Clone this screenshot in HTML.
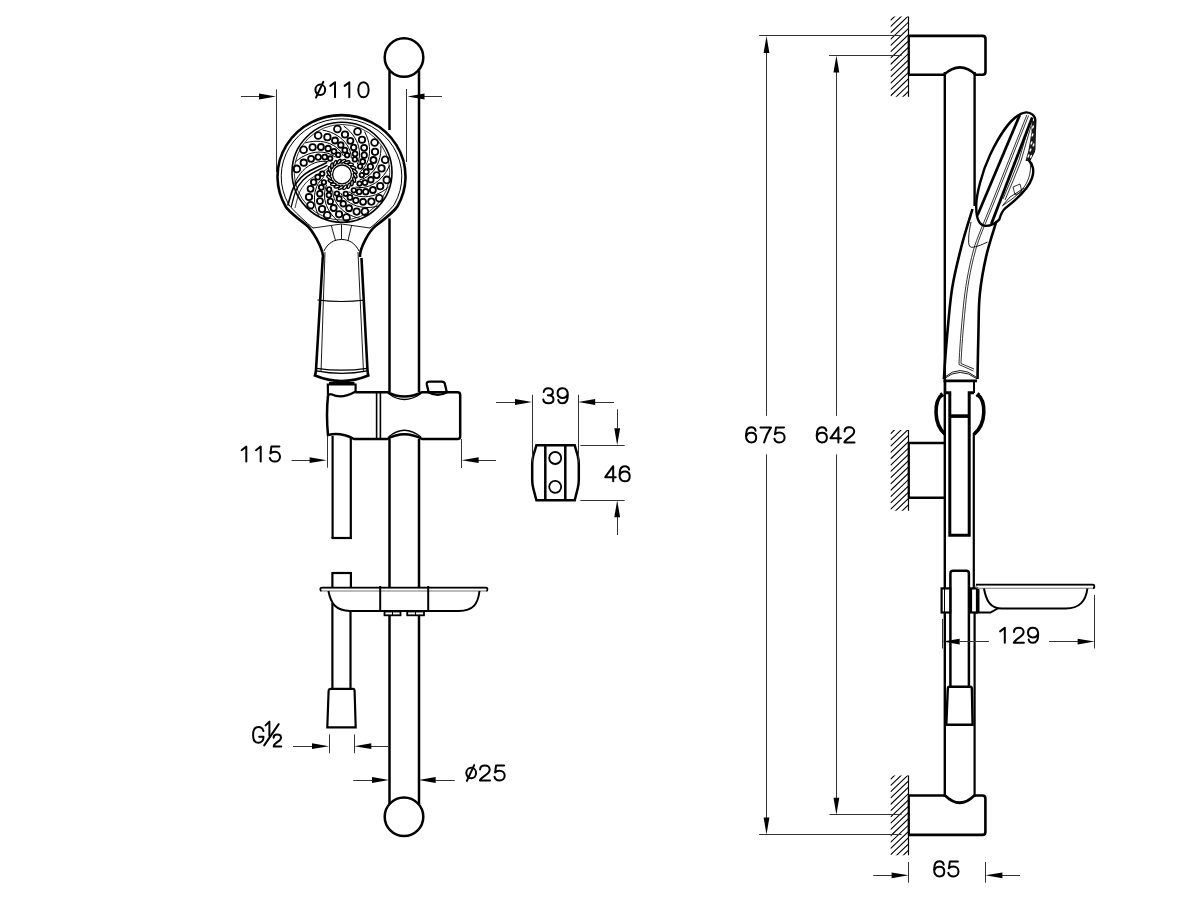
<!DOCTYPE html>
<html><head><meta charset="utf-8"><style>
html,body{margin:0;padding:0;background:#fff;}
svg{display:block;}
text{font-family:"Liberation Sans",sans-serif;fill:#000;}
</style></head><body>
<svg width="1186" height="903" viewBox="0 0 1186 903">
<rect width="1186" height="903" fill="#fff"/>
<line x1="276.50" y1="89.40" x2="276.50" y2="172.00" stroke="#333" stroke-width="1.0"/>
<line x1="406.50" y1="89.00" x2="406.50" y2="162.00" stroke="#333" stroke-width="1.0"/>
<line x1="241.00" y1="96.50" x2="260.00" y2="96.50" stroke="#333" stroke-width="1.0"/>
<polygon points="276.00,96.50 259.00,93.60 259.00,99.40" fill="#000"/>
<line x1="424.00" y1="96.50" x2="442.00" y2="96.50" stroke="#333" stroke-width="1.0"/>
<polygon points="407.50,96.50 424.50,93.60 424.50,99.40" fill="#000"/>
<path transform="translate(314.40,81.20)" d="M5.9,3.4 C8.6,3.4 10.8,5.7 10.8,8.6 C10.8,11.5 8.6,13.8 5.9,13.8 C3.2,13.8 1,11.5 1,8.6 C1,5.7 3.2,3.4 5.9,3.4 Z M1.6,16.5 L8.9,0.7" stroke="#000" stroke-width="2.0" fill="none" stroke-linecap="round" stroke-linejoin="round"/>
<path transform="translate(328.70,81.20)" d="M1.6,4.7 L6.3,1 L6.3,16.1" stroke="#000" stroke-width="2.0" fill="none" stroke-linecap="round" stroke-linejoin="round"/>
<path transform="translate(343.00,81.20)" d="M1.6,4.7 L6.3,1 L6.3,16.1" stroke="#000" stroke-width="2.0" fill="none" stroke-linecap="round" stroke-linejoin="round"/>
<path transform="translate(357.30,81.20)" d="M6.15,1 C9.2,1 11.3,4.2 11.3,8.55 C11.3,12.9 9.2,16.1 6.15,16.1 C3.1,16.1 1,12.9 1,8.55 C1,4.2 3.1,1 6.15,1 Z" stroke="#000" stroke-width="2.0" fill="none" stroke-linecap="round" stroke-linejoin="round"/>
<circle cx="404.00" cy="57.50" r="19.30" stroke="#000" stroke-width="2.5" fill="none"/>
<line x1="389.50" y1="70.50" x2="389.50" y2="130.00" stroke="#000" stroke-width="2.5"/>
<line x1="389.50" y1="218.50" x2="389.50" y2="392.00" stroke="#000" stroke-width="2.5"/>
<line x1="419.00" y1="70.50" x2="419.00" y2="392.00" stroke="#000" stroke-width="2.5"/>
<line x1="389.50" y1="439.00" x2="389.50" y2="587.50" stroke="#000" stroke-width="2.5"/>
<line x1="419.00" y1="439.00" x2="419.00" y2="587.50" stroke="#000" stroke-width="2.5"/>
<line x1="389.50" y1="615.00" x2="389.50" y2="804.00" stroke="#000" stroke-width="2.5"/>
<line x1="419.00" y1="615.00" x2="419.00" y2="804.00" stroke="#000" stroke-width="2.5"/>
<circle cx="404.00" cy="816.80" r="19.30" stroke="#000" stroke-width="2.5" fill="none"/>
<path d="M323.1,257 C322.6,248 312.3,229.4 305.9,224.6 C301.9,221.6 288,210.6 285.52,206.27 A64.0,61.4 0 1 1 397.48,206.27 C395,210.6 379.8,222.7 375.8,225.7 C369.4,230.5 359.4,248 360.0,257" stroke="#000" stroke-width="2.6" fill="none" />
<path d="M313.2,228.2 C308.4,224.6 291.3,208.8 288.76,204.47 A60.3,57.7 0 1 1 394.24,204.47 C391.7,208.8 374.6,224.6 369.8,228.2" stroke="#000" stroke-width="1.0" fill="none" />
<circle cx="342.00" cy="172.30" r="50.00" stroke="#000" stroke-width="1.6" fill="none"/>
<circle cx="342.00" cy="172.30" r="47.80" stroke="#000" stroke-width="0.8" fill="none"/>
<circle cx="342.00" cy="174.40" r="9.40" stroke="#000" stroke-width="1.3" fill="none"/>
<ellipse cx="355.15" cy="175.55" rx="2.8" ry="1.3" transform="rotate(60.0 355.15 175.55)" stroke="#000" stroke-width="1.4" fill="none"/>
<ellipse cx="354.15" cy="179.56" rx="2.8" ry="1.3" transform="rotate(78.0 354.15 179.56)" stroke="#000" stroke-width="1.4" fill="none"/>
<ellipse cx="351.96" cy="183.06" rx="2.8" ry="1.3" transform="rotate(96.0 351.96 183.06)" stroke="#000" stroke-width="1.4" fill="none"/>
<ellipse cx="348.80" cy="185.71" rx="2.8" ry="1.3" transform="rotate(114.0 348.80 185.71)" stroke="#000" stroke-width="1.4" fill="none"/>
<ellipse cx="344.97" cy="187.26" rx="2.8" ry="1.3" transform="rotate(132.0 344.97 187.26)" stroke="#000" stroke-width="1.4" fill="none"/>
<ellipse cx="340.85" cy="187.55" rx="2.8" ry="1.3" transform="rotate(150.0 340.85 187.55)" stroke="#000" stroke-width="1.4" fill="none"/>
<ellipse cx="336.84" cy="186.55" rx="2.8" ry="1.3" transform="rotate(168.0 336.84 186.55)" stroke="#000" stroke-width="1.4" fill="none"/>
<ellipse cx="333.34" cy="184.36" rx="2.8" ry="1.3" transform="rotate(186.0 333.34 184.36)" stroke="#000" stroke-width="1.4" fill="none"/>
<ellipse cx="330.69" cy="181.20" rx="2.8" ry="1.3" transform="rotate(204.0 330.69 181.20)" stroke="#000" stroke-width="1.4" fill="none"/>
<ellipse cx="329.14" cy="177.37" rx="2.8" ry="1.3" transform="rotate(222.0 329.14 177.37)" stroke="#000" stroke-width="1.4" fill="none"/>
<ellipse cx="328.85" cy="173.25" rx="2.8" ry="1.3" transform="rotate(240.0 328.85 173.25)" stroke="#000" stroke-width="1.4" fill="none"/>
<ellipse cx="329.85" cy="169.24" rx="2.8" ry="1.3" transform="rotate(258.0 329.85 169.24)" stroke="#000" stroke-width="1.4" fill="none"/>
<ellipse cx="332.04" cy="165.74" rx="2.8" ry="1.3" transform="rotate(276.0 332.04 165.74)" stroke="#000" stroke-width="1.4" fill="none"/>
<ellipse cx="335.20" cy="163.09" rx="2.8" ry="1.3" transform="rotate(294.0 335.20 163.09)" stroke="#000" stroke-width="1.4" fill="none"/>
<ellipse cx="339.03" cy="161.54" rx="2.8" ry="1.3" transform="rotate(312.0 339.03 161.54)" stroke="#000" stroke-width="1.4" fill="none"/>
<ellipse cx="343.15" cy="161.25" rx="2.8" ry="1.3" transform="rotate(330.0 343.15 161.25)" stroke="#000" stroke-width="1.4" fill="none"/>
<ellipse cx="347.16" cy="162.25" rx="2.8" ry="1.3" transform="rotate(348.0 347.16 162.25)" stroke="#000" stroke-width="1.4" fill="none"/>
<ellipse cx="350.66" cy="164.44" rx="2.8" ry="1.3" transform="rotate(366.0 350.66 164.44)" stroke="#000" stroke-width="1.4" fill="none"/>
<ellipse cx="353.31" cy="167.60" rx="2.8" ry="1.3" transform="rotate(384.0 353.31 167.60)" stroke="#000" stroke-width="1.4" fill="none"/>
<ellipse cx="354.86" cy="171.43" rx="2.8" ry="1.3" transform="rotate(402.0 354.86 171.43)" stroke="#000" stroke-width="1.4" fill="none"/>
<circle cx="318.19" cy="135.51" r="3.40" stroke="#000" stroke-width="1.8" fill="none"/>
<circle cx="327.40" cy="137.16" r="3.20" stroke="#000" stroke-width="1.8" fill="none"/>
<circle cx="335.00" cy="140.52" r="3.00" stroke="#000" stroke-width="1.8" fill="none"/>
<circle cx="340.81" cy="145.02" r="2.75" stroke="#000" stroke-width="1.8" fill="none"/>
<circle cx="344.84" cy="150.17" r="2.50" stroke="#000" stroke-width="1.8" fill="none"/>
<circle cx="347.11" cy="155.27" r="2.25" stroke="#000" stroke-width="1.8" fill="none"/>
<polyline points="343.44,155.96 342.11,153.60 340.46,151.35 338.48,149.25 336.19,147.32 333.61,145.60 330.75,144.12 327.64,142.92 324.30,142.02 320.76,141.45 317.05,141.23 313.21,141.39 309.27,141.93 305.27,142.88" stroke="#000" stroke-width="1.0" fill="none"/>
<circle cx="337.41" cy="129.03" r="3.40" stroke="#000" stroke-width="1.8" fill="none"/>
<circle cx="345.00" cy="134.51" r="3.20" stroke="#000" stroke-width="1.8" fill="none"/>
<circle cx="350.38" cy="140.83" r="3.00" stroke="#000" stroke-width="1.8" fill="none"/>
<circle cx="353.67" cy="147.41" r="2.75" stroke="#000" stroke-width="1.8" fill="none"/>
<circle cx="355.07" cy="153.79" r="2.50" stroke="#000" stroke-width="1.8" fill="none"/>
<circle cx="354.90" cy="159.38" r="2.25" stroke="#000" stroke-width="1.8" fill="none"/>
<polyline points="351.29,158.40 351.12,155.71 350.60,152.96 349.74,150.21 348.51,147.48 346.93,144.81 344.99,142.24 342.71,139.81 340.09,137.55 337.15,135.50 333.90,133.70 330.38,132.17 326.59,130.95 322.57,130.07" stroke="#000" stroke-width="1.0" fill="none"/>
<circle cx="357.54" cy="131.53" r="3.40" stroke="#000" stroke-width="1.8" fill="none"/>
<circle cx="362.00" cy="139.76" r="3.20" stroke="#000" stroke-width="1.8" fill="none"/>
<circle cx="364.11" cy="147.79" r="3.00" stroke="#000" stroke-width="1.8" fill="none"/>
<circle cx="364.22" cy="155.14" r="2.75" stroke="#000" stroke-width="1.8" fill="none"/>
<circle cx="362.71" cy="161.50" r="2.50" stroke="#000" stroke-width="1.8" fill="none"/>
<circle cx="360.14" cy="166.46" r="2.25" stroke="#000" stroke-width="1.8" fill="none"/>
<polyline points="357.31,164.01 358.33,161.51 359.05,158.81 359.46,155.95 359.54,152.96 359.27,149.87 358.64,146.72 357.64,143.54 356.26,140.37 354.50,137.25 352.36,134.21 349.84,131.31 346.95,128.57 343.71,126.03" stroke="#000" stroke-width="1.0" fill="none"/>
<circle cx="374.59" cy="142.51" r="3.40" stroke="#000" stroke-width="1.8" fill="none"/>
<circle cx="375.04" cy="151.86" r="3.20" stroke="#000" stroke-width="1.8" fill="none"/>
<circle cx="373.46" cy="160.01" r="3.00" stroke="#000" stroke-width="1.8" fill="none"/>
<circle cx="370.37" cy="166.68" r="2.75" stroke="#000" stroke-width="1.8" fill="none"/>
<circle cx="366.26" cy="171.76" r="2.50" stroke="#000" stroke-width="1.8" fill="none"/>
<circle cx="361.79" cy="175.11" r="2.25" stroke="#000" stroke-width="1.8" fill="none"/>
<polyline points="360.30,171.68 362.30,169.87 364.12,167.75 365.73,165.35 367.10,162.69 368.20,159.79 369.00,156.67 369.48,153.37 369.61,149.92 369.37,146.34 368.76,142.68 367.75,138.97 366.34,135.25 364.52,131.56" stroke="#000" stroke-width="1.0" fill="none"/>
<circle cx="385.20" cy="159.80" r="3.40" stroke="#000" stroke-width="1.8" fill="none"/>
<circle cx="381.55" cy="168.42" r="3.20" stroke="#000" stroke-width="1.8" fill="none"/>
<circle cx="376.59" cy="175.08" r="3.00" stroke="#000" stroke-width="1.8" fill="none"/>
<circle cx="370.91" cy="179.75" r="2.75" stroke="#000" stroke-width="1.8" fill="none"/>
<circle cx="365.00" cy="182.54" r="2.50" stroke="#000" stroke-width="1.8" fill="none"/>
<circle cx="359.52" cy="183.62" r="2.25" stroke="#000" stroke-width="1.8" fill="none"/>
<polyline points="359.67,179.89 362.26,179.12 364.82,178.00 367.31,176.54 369.70,174.73 371.95,172.59 374.02,170.13 375.88,167.37 377.49,164.31 378.83,160.99 379.87,157.42 380.57,153.64 380.91,149.68 380.87,145.56" stroke="#000" stroke-width="1.0" fill="none"/>
<circle cx="386.86" cy="179.91" r="3.40" stroke="#000" stroke-width="1.8" fill="none"/>
<circle cx="380.23" cy="186.16" r="3.20" stroke="#000" stroke-width="1.8" fill="none"/>
<circle cx="372.88" cy="190.01" r="3.00" stroke="#000" stroke-width="1.8" fill="none"/>
<circle cx="365.73" cy="191.76" r="2.75" stroke="#000" stroke-width="1.8" fill="none"/>
<circle cx="359.20" cy="191.71" r="2.50" stroke="#000" stroke-width="1.8" fill="none"/>
<circle cx="353.79" cy="190.31" r="2.25" stroke="#000" stroke-width="1.8" fill="none"/>
<polyline points="355.54,187.01 358.21,187.44 361.00,187.54 363.88,187.30 366.81,186.71 369.77,185.76 372.70,184.44 375.58,182.75 378.36,180.70 381.01,178.29 383.48,175.52 385.76,172.42 387.78,169.00 389.53,165.27" stroke="#000" stroke-width="1.0" fill="none"/>
<circle cx="379.32" cy="198.32" r="3.40" stroke="#000" stroke-width="1.8" fill="none"/>
<circle cx="371.35" cy="201.58" r="3.20" stroke="#000" stroke-width="1.8" fill="none"/>
<circle cx="363.05" cy="201.86" r="3.00" stroke="#000" stroke-width="1.8" fill="none"/>
<circle cx="355.86" cy="200.33" r="2.75" stroke="#000" stroke-width="1.8" fill="none"/>
<circle cx="349.99" cy="197.45" r="2.50" stroke="#000" stroke-width="1.8" fill="none"/>
<circle cx="345.72" cy="193.85" r="2.25" stroke="#000" stroke-width="1.8" fill="none"/>
<polyline points="348.74,191.63 350.95,193.18 353.42,194.48 356.12,195.51 359.02,196.25 362.09,196.68 365.31,196.76 368.63,196.49 372.03,195.84 375.46,194.82 378.89,193.40 382.29,191.59 385.60,189.39 388.79,186.79" stroke="#000" stroke-width="1.0" fill="none"/>
<circle cx="364.92" cy="211.60" r="3.40" stroke="#000" stroke-width="1.8" fill="none"/>
<circle cx="356.66" cy="211.62" r="3.20" stroke="#000" stroke-width="1.8" fill="none"/>
<circle cx="349.06" cy="208.27" r="3.00" stroke="#000" stroke-width="1.8" fill="none"/>
<circle cx="343.24" cy="203.77" r="2.75" stroke="#000" stroke-width="1.8" fill="none"/>
<circle cx="339.20" cy="198.64" r="2.50" stroke="#000" stroke-width="1.8" fill="none"/>
<circle cx="336.92" cy="193.54" r="2.25" stroke="#000" stroke-width="1.8" fill="none"/>
<polyline points="340.60,192.85 341.92,195.20 343.58,197.45 345.57,199.55 347.86,201.47 350.45,203.19 353.31,204.66 356.42,205.85 359.76,206.75 363.30,207.31 367.00,207.52 370.84,207.36 374.78,206.81 378.79,205.85" stroke="#000" stroke-width="1.0" fill="none"/>
<circle cx="346.46" cy="217.58" r="3.40" stroke="#000" stroke-width="1.8" fill="none"/>
<circle cx="339.07" cy="214.29" r="3.20" stroke="#000" stroke-width="1.8" fill="none"/>
<circle cx="333.68" cy="207.98" r="3.00" stroke="#000" stroke-width="1.8" fill="none"/>
<circle cx="330.38" cy="201.41" r="2.75" stroke="#000" stroke-width="1.8" fill="none"/>
<circle cx="328.97" cy="195.03" r="2.50" stroke="#000" stroke-width="1.8" fill="none"/>
<circle cx="329.13" cy="189.44" r="2.25" stroke="#000" stroke-width="1.8" fill="none"/>
<polyline points="332.74,190.41 332.91,193.11 333.43,195.85 334.31,198.61 335.54,201.34 337.13,204.00 339.07,206.57 341.35,208.99 343.98,211.25 346.92,213.29 350.17,215.09 353.70,216.61 357.49,217.82 361.51,218.69" stroke="#000" stroke-width="1.0" fill="none"/>
<circle cx="327.21" cy="215.33" r="3.40" stroke="#000" stroke-width="1.8" fill="none"/>
<circle cx="322.06" cy="209.08" r="3.20" stroke="#000" stroke-width="1.8" fill="none"/>
<circle cx="319.94" cy="201.05" r="3.00" stroke="#000" stroke-width="1.8" fill="none"/>
<circle cx="319.82" cy="193.70" r="2.75" stroke="#000" stroke-width="1.8" fill="none"/>
<circle cx="321.31" cy="187.34" r="2.50" stroke="#000" stroke-width="1.8" fill="none"/>
<circle cx="323.88" cy="182.37" r="2.25" stroke="#000" stroke-width="1.8" fill="none"/>
<polyline points="326.71,184.81 325.70,187.32 324.98,190.02 324.57,192.88 324.50,195.87 324.77,198.96 325.41,202.11 326.42,205.29 327.80,208.46 329.57,211.58 331.71,214.61 334.24,217.51 337.13,220.24 340.37,222.77" stroke="#000" stroke-width="1.0" fill="none"/>
<circle cx="310.57" cy="205.20" r="3.40" stroke="#000" stroke-width="1.8" fill="none"/>
<circle cx="309.00" cy="197.00" r="3.20" stroke="#000" stroke-width="1.8" fill="none"/>
<circle cx="310.56" cy="188.85" r="3.00" stroke="#000" stroke-width="1.8" fill="none"/>
<circle cx="313.64" cy="182.17" r="2.75" stroke="#000" stroke-width="1.8" fill="none"/>
<circle cx="317.75" cy="177.09" r="2.50" stroke="#000" stroke-width="1.8" fill="none"/>
<circle cx="322.21" cy="173.72" r="2.25" stroke="#000" stroke-width="1.8" fill="none"/>
<polyline points="323.71,177.15 321.71,178.97 319.89,181.09 318.28,183.49 316.92,186.15 315.83,189.06 315.03,192.18 314.56,195.48 314.44,198.93 314.68,202.51 315.30,206.17 316.31,209.88 317.73,213.59 319.55,217.28" stroke="#000" stroke-width="1.0" fill="none"/>
<circle cx="296.73" cy="168.91" r="3.40" stroke="#000" stroke-width="1.8" fill="none"/>
<circle cx="303.75" cy="162.71" r="3.20" stroke="#000" stroke-width="1.8" fill="none"/>
<circle cx="311.09" cy="158.84" r="3.00" stroke="#000" stroke-width="1.8" fill="none"/>
<circle cx="318.24" cy="157.09" r="2.75" stroke="#000" stroke-width="1.8" fill="none"/>
<circle cx="324.77" cy="157.12" r="2.50" stroke="#000" stroke-width="1.8" fill="none"/>
<circle cx="330.18" cy="158.51" r="2.25" stroke="#000" stroke-width="1.8" fill="none"/>
<polyline points="328.44,161.82 325.77,161.39 322.98,161.29 320.10,161.54 317.17,162.13 314.21,163.09 311.28,164.41 308.41,166.11 305.63,168.16 302.99,170.58 300.51,173.35 298.25,176.46 296.23,179.88 294.48,183.61" stroke="#000" stroke-width="1.0" fill="none"/>
<circle cx="303.59" cy="149.82" r="3.40" stroke="#000" stroke-width="1.8" fill="none"/>
<circle cx="312.60" cy="147.27" r="3.20" stroke="#000" stroke-width="1.8" fill="none"/>
<circle cx="320.90" cy="146.98" r="3.00" stroke="#000" stroke-width="1.8" fill="none"/>
<circle cx="328.10" cy="148.49" r="2.75" stroke="#000" stroke-width="1.8" fill="none"/>
<circle cx="333.97" cy="151.36" r="2.50" stroke="#000" stroke-width="1.8" fill="none"/>
<circle cx="338.24" cy="154.96" r="2.25" stroke="#000" stroke-width="1.8" fill="none"/>
<polyline points="335.23,157.18 333.02,155.64 330.54,154.34 327.84,153.31 324.94,152.58 321.87,152.16 318.65,152.08 315.33,152.36 311.93,153.01 308.50,154.04 305.07,155.46 301.68,157.28 298.38,159.49 295.19,162.09" stroke="#000" stroke-width="1.0" fill="none"/>
<path d="M327.00,162.60 C324.17,163.97 314.33,168.32 310.00,170.80 C305.67,173.28 303.80,174.57 301.00,177.50 C298.20,180.43 295.40,183.73 293.20,188.40 C291.00,193.07 288.70,202.65 287.80,205.50" stroke="#000" stroke-width="1.7" fill="none" />
<path d="M327.50,165.40 C324.83,166.77 315.55,171.17 311.50,173.60 C307.45,176.03 305.78,177.17 303.20,180.00 C300.62,182.83 298.00,186.10 296.00,190.60 C294.00,195.10 292.00,204.27 291.20,207.00" stroke="#000" stroke-width="1.3" fill="none" />
<path d="M328.00,168.50 C325.58,169.88 317.20,174.38 313.50,176.80 C309.80,179.22 308.18,180.30 305.80,183.00 C303.42,185.70 301.00,188.83 299.20,193.00 C297.40,197.17 295.70,205.50 295.00,208.00" stroke="#000" stroke-width="0.8" fill="none" />
<path d="M313,228 L341.5,224 L370,228" stroke="#000" stroke-width="0.9" fill="none" />
<line x1="331.30" y1="225.60" x2="335.50" y2="240.50" stroke="#000" stroke-width="0.9"/>
<line x1="341.50" y1="224.20" x2="341.50" y2="239.00" stroke="#000" stroke-width="0.9"/>
<line x1="351.70" y1="225.00" x2="348.00" y2="240.50" stroke="#000" stroke-width="0.9"/>
<path d="M323.9,251 C328,243 334,239.5 341.5,239.5 C349,239.5 355,243 359,251" stroke="#000" stroke-width="1.0" fill="none" />
<path d="M322.8,257 L316,370 Q315.5,374 315,375.5 Q341.7,386.5 368.3,375.5 Q367.8,374 367.5,370 L361.5,258" stroke="#000" stroke-width="2.6" fill="none" />
<path d="M325,252 L321,372" stroke="#000" stroke-width="0.9" fill="none" />
<path d="M358,252 L363.5,372" stroke="#000" stroke-width="0.9" fill="none" />
<path d="M317.5,300 Q341.5,303 365,300" stroke="#000" stroke-width="1.1" fill="none" />
<path d="M316.8,368.3 Q341.7,372.1 367,368.3" stroke="#000" stroke-width="1.2" fill="none" />
<path d="M316.6,370.9 Q341.7,375.9 367.2,370.9" stroke="#000" stroke-width="1.2" fill="none" />
<path d="M328,395.5 L327.8,384.5 L355.6,384.5 L355.6,392" stroke="#000" stroke-width="2.2" fill="none" />
<line x1="329.00" y1="383.20" x2="354.50" y2="383.20" stroke="#000" stroke-width="2.6"/>
<path d="M328,395.5 Q330,393.6 332,394.5 Q341.7,399.5 355.6,391.5" stroke="#000" stroke-width="2.2" fill="none" />
<path d="M355.4,392.2 L387.3,392.2 Q404,401 422.2,392.2 L457.5,392.2 Q460.2,392.2 460.2,395 L460.2,436.5 Q460.2,439 457.5,439 L422.2,439 Q404,429.5 387.3,439 L354,439 Q341,432 328,435 Q326,415 328,395.5" stroke="#000" stroke-width="2.5" fill="none" />
<path d="M388.5,393.5 Q404,405.5 421,393.5" stroke="#000" stroke-width="1.4" fill="none" />
<path d="M388.5,437 Q404,423.5 421,437" stroke="#000" stroke-width="1.4" fill="none" />
<line x1="376.60" y1="392.20" x2="376.60" y2="439.00" stroke="#000" stroke-width="1.6"/>
<line x1="380.40" y1="392.20" x2="380.40" y2="439.00" stroke="#000" stroke-width="1.6"/>
<path d="M428.6,392 L426.8,384.5 Q426.3,381.6 429.5,381.6 L442,381.6 Q444.3,381.6 444.9,384 L446.8,392.2" stroke="#000" stroke-width="2.3" fill="none" />
<path d="M428.5,392.2 Q437.5,397.5 447,392.2" stroke="#000" stroke-width="2.2" fill="none" />
<line x1="332.60" y1="436.00" x2="332.60" y2="538.00" stroke="#000" stroke-width="2.2"/>
<line x1="350.80" y1="437.00" x2="350.80" y2="538.00" stroke="#000" stroke-width="2.2"/>
<line x1="331.50" y1="538.00" x2="352.00" y2="538.00" stroke="#000" stroke-width="2.2"/>
<line x1="332.40" y1="573.00" x2="350.90" y2="573.00" stroke="#000" stroke-width="2.2"/>
<line x1="332.40" y1="572.00" x2="332.40" y2="587.50" stroke="#000" stroke-width="2.2"/>
<line x1="350.90" y1="572.00" x2="350.90" y2="587.50" stroke="#000" stroke-width="2.2"/>
<line x1="332.40" y1="603.00" x2="332.40" y2="689.50" stroke="#000" stroke-width="2.2"/>
<line x1="350.50" y1="610.50" x2="350.50" y2="689.50" stroke="#000" stroke-width="2.2"/>
<path d="M331,688.8 L353,688.8 Q354.5,688.8 354.6,691 L355.7,727.3 L327.3,727.3 L328.6,691 Q328.8,688.8 331,688.8 Z" stroke="#000" stroke-width="2.2" fill="none" />
<rect x="320.3" y="587.6" width="167.2" height="3.4" rx="1.7" stroke="#777" stroke-width="1.1" fill="none"/>
<path d="M321.5,591 Q320.3,591 320.3,589.3 Q320.3,587.6 322,587.6 L485.8,587.6 Q487.5,587.6 487.5,589.3 Q487.5,591 486.3,591" stroke="#000" stroke-width="1.7" fill="none" />
<path d="M328.4,591 C331,604 336,610.9 350,610.9 L459,610.9 C473,610.9 478,604 479.5,591" stroke="#000" stroke-width="2.0" fill="none" />
<line x1="380.20" y1="586.00" x2="380.20" y2="610.90" stroke="#000" stroke-width="2.0"/>
<line x1="428.20" y1="586.00" x2="428.20" y2="610.90" stroke="#000" stroke-width="2.0"/>
<rect x="384.5" y="611.5" width="16" height="3.8" stroke="#000" stroke-width="1.8" fill="none"/>
<rect x="407.2" y="611.5" width="16.8" height="3.8" stroke="#000" stroke-width="1.8" fill="none"/>
<line x1="392.50" y1="611.30" x2="392.50" y2="615.30" stroke="#000" stroke-width="1.0"/>
<line x1="415.50" y1="611.30" x2="415.50" y2="615.30" stroke="#000" stroke-width="1.0"/>
<path transform="translate(240.00,445.50)" d="M1.6,4.7 L6.3,1 L6.3,16.1" stroke="#000" stroke-width="2.0" fill="none" stroke-linecap="round" stroke-linejoin="round"/>
<path transform="translate(254.40,445.50)" d="M1.6,4.7 L6.3,1 L6.3,16.1" stroke="#000" stroke-width="2.0" fill="none" stroke-linecap="round" stroke-linejoin="round"/>
<path transform="translate(268.80,445.50)" d="M10.6,1.1 L2.6,1.1 L1.6,8 C2.8,6.9 4.3,6.3 6.1,6.3 C9.2,6.3 11.2,8.4 11.2,11.2 C11.2,14.1 9.1,16.1 6.1,16.1 C3.4,16.1 1.5,14.8 1,12.4" stroke="#000" stroke-width="2.0" fill="none" stroke-linecap="round" stroke-linejoin="round"/>
<line x1="291.60" y1="460.50" x2="310.00" y2="460.50" stroke="#333" stroke-width="1.0"/>
<polygon points="326.60,460.20 309.60,457.30 309.60,463.10" fill="#000"/>
<line x1="327.50" y1="436.00" x2="327.50" y2="467.70" stroke="#333" stroke-width="1.0"/>
<line x1="461.50" y1="439.00" x2="461.50" y2="468.00" stroke="#333" stroke-width="1.0"/>
<line x1="478.00" y1="460.50" x2="496.00" y2="460.50" stroke="#333" stroke-width="1.0"/>
<polygon points="461.60,460.20 478.60,457.30 478.60,463.10" fill="#000"/>
<path transform="translate(252.10,726.10)" d="M11.3,5 C10.7,2.6 8.7,1 6.2,1 C3,1 1,4 1,8.9 C1,13.7 3.1,16.7 6.3,16.7 C9.4,16.7 11.4,14.3 11.4,11 L11.4,10.6 L7.1,10.6" stroke="#000" stroke-width="2.0" fill="none" stroke-linecap="round" stroke-linejoin="round"/>
<path d="M265.6,725.4 L269.4,721.6 L269.4,735.8" stroke="#000" stroke-width="2.0" fill="none" stroke-linecap="round" stroke-linejoin="round"/>
<path d="M264.2,745.4 L278.7,724.1" stroke="#000" stroke-width="2.0" fill="none" stroke-linecap="round"/>
<path d="M273.6,737.8 C273.6,735.8 275,734.6 277.2,734.6 C279.5,734.6 281,735.9 281,737.8 C281,739.6 279.6,740.8 277.2,742.2 C275.2,743.5 273.9,745 273.7,746.6 L281.2,746.6" stroke="#000" stroke-width="2.0" fill="none" stroke-linecap="round" stroke-linejoin="round"/>
<line x1="329.50" y1="734.40" x2="329.50" y2="753.20" stroke="#333" stroke-width="1.0"/>
<line x1="354.50" y1="734.40" x2="354.50" y2="753.20" stroke="#333" stroke-width="1.0"/>
<line x1="293.00" y1="746.50" x2="312.00" y2="746.50" stroke="#333" stroke-width="1.0"/>
<polygon points="329.00,746.20 312.00,743.30 312.00,749.10" fill="#000"/>
<line x1="371.00" y1="746.50" x2="389.00" y2="746.50" stroke="#333" stroke-width="1.0"/>
<polygon points="354.30,746.20 371.30,743.30 371.30,749.10" fill="#000"/>
<line x1="353.30" y1="780.50" x2="372.00" y2="780.50" stroke="#333" stroke-width="1.0"/>
<polygon points="389.00,780.00 372.00,777.10 372.00,782.90" fill="#000"/>
<line x1="435.50" y1="780.50" x2="454.80" y2="780.50" stroke="#333" stroke-width="1.0"/>
<polygon points="418.70,780.00 435.70,777.10 435.70,782.90" fill="#000"/>
<path transform="translate(465.30,764.40)" d="M5.9,3.4 C8.6,3.4 10.8,5.7 10.8,8.6 C10.8,11.5 8.6,13.8 5.9,13.8 C3.2,13.8 1,11.5 1,8.6 C1,5.7 3.2,3.4 5.9,3.4 Z M1.6,16.5 L8.9,0.7" stroke="#000" stroke-width="2.0" fill="none" stroke-linecap="round" stroke-linejoin="round"/>
<path transform="translate(478.80,764.40)" d="M1.3,5.2 C1.3,2.6 3.4,1 6.1,1 C8.9,1 10.9,2.8 10.9,5.3 C10.9,7.6 9.4,9 6.5,10.9 C3.6,12.8 1.5,14.4 1.1,16.1 L11.2,16.1" stroke="#000" stroke-width="2.0" fill="none" stroke-linecap="round" stroke-linejoin="round"/>
<path transform="translate(493.50,764.40)" d="M10.6,1.1 L2.6,1.1 L1.6,8 C2.8,6.9 4.3,6.3 6.1,6.3 C9.2,6.3 11.2,8.4 11.2,11.2 C11.2,14.1 9.1,16.1 6.1,16.1 C3.4,16.1 1.5,14.8 1,12.4" stroke="#000" stroke-width="2.0" fill="none" stroke-linecap="round" stroke-linejoin="round"/>
<path d="M536.4,445.3 L574.7,445.3 L577.8,456 Q578.8,460 578.8,464 L578.8,480 Q578.8,484 577.8,488 L574.7,500.2 L536.4,500.2 L533.2,488 Q532.2,484 532.2,480 L532.2,464 Q532.2,460 533.2,456 Z" stroke="#000" stroke-width="2.5" fill="none" />
<line x1="545.30" y1="445.30" x2="545.30" y2="500.20" stroke="#000" stroke-width="2.5"/>
<line x1="565.30" y1="445.30" x2="565.30" y2="500.20" stroke="#000" stroke-width="2.5"/>
<circle cx="555.20" cy="458.00" r="6.00" stroke="#000" stroke-width="1.8" fill="none"/>
<circle cx="555.20" cy="486.80" r="6.00" stroke="#000" stroke-width="1.8" fill="none"/>
<line x1="532.50" y1="394.80" x2="532.50" y2="462.00" stroke="#333" stroke-width="1.0"/>
<line x1="578.50" y1="394.80" x2="578.50" y2="462.00" stroke="#333" stroke-width="1.0"/>
<line x1="496.00" y1="402.50" x2="515.00" y2="402.50" stroke="#333" stroke-width="1.0"/>
<polygon points="532.00,402.00 515.00,399.10 515.00,404.90" fill="#000"/>
<line x1="595.00" y1="402.50" x2="614.00" y2="402.50" stroke="#333" stroke-width="1.0"/>
<polygon points="578.20,402.00 595.20,399.10 595.20,404.90" fill="#000"/>
<path transform="translate(542.30,387.20)" d="M1.4,4.8 C1.7,2.4 3.6,1 6.1,1 C8.7,1 10.6,2.6 10.6,4.7 C10.6,7 8.6,8.1 5.6,8.1 C9,8.1 11.2,9.7 11.2,12.3 C11.2,14.7 9.1,16.1 6.1,16.1 C3.2,16.1 1.2,14.6 1,12.2" stroke="#000" stroke-width="2.0" fill="none" stroke-linecap="round" stroke-linejoin="round"/>
<path transform="translate(556.50,387.20)" d="M1.70,12.70 C2.10,14.80 3.80,16.10 6.00,16.10 C9.40,16.10 11.30,12.80 11.30,7.80 C11.30,3.60 9.30,1.00 6.10,1.00 C3.20,1.00 1.10,2.90 1.10,5.90 C1.10,8.80 3.10,10.70 5.90,10.70 C8.60,10.70 10.70,9.10 11.20,6.50" stroke="#000" stroke-width="2.0" fill="none" stroke-linecap="round" stroke-linejoin="round"/>
<line x1="580.40" y1="445.50" x2="624.70" y2="445.50" stroke="#333" stroke-width="1.0"/>
<line x1="580.40" y1="500.50" x2="624.70" y2="500.50" stroke="#333" stroke-width="1.0"/>
<line x1="617.50" y1="409.30" x2="617.50" y2="428.30" stroke="#333" stroke-width="1.0"/>
<polygon points="617.20,445.30 614.30,428.30 620.10,428.30" fill="#000"/>
<line x1="617.50" y1="517.00" x2="617.50" y2="535.00" stroke="#333" stroke-width="1.0"/>
<polygon points="617.20,500.20 614.30,517.20 620.10,517.20" fill="#000"/>
<path transform="translate(604.30,465.20)" d="M8.9,16.1 L8.9,1 L0.9,12 L11.4,12" stroke="#000" stroke-width="2.0" fill="none" stroke-linecap="round" stroke-linejoin="round"/>
<path transform="translate(618.50,465.20)" d="M10.6,4.4 C10.2,2.3 8.5,1 6.3,1 C2.9,1 1,4.3 1,9.3 C1,13.5 3,16.1 6.2,16.1 C9.1,16.1 11.2,14.2 11.2,11.2 C11.2,8.3 9.2,6.4 6.4,6.4 C3.7,6.4 1.6,8 1.1,10.6" stroke="#000" stroke-width="2.0" fill="none" stroke-linecap="round" stroke-linejoin="round"/>
<line x1="908.50" y1="16.60" x2="908.50" y2="96.80" stroke="#000" stroke-width="1.2"/>
<clipPath id="c16"><rect x="890.5" y="16.6" width="18.3" height="80.19999999999999"/></clipPath>
<path d="M890.5,14.10 L908.8,-3.40 M890.5,20.40 L908.8,2.90 M890.5,26.70 L908.8,9.20 M890.5,33.00 L908.8,15.50 M890.5,39.30 L908.8,21.80 M890.5,45.60 L908.8,28.10 M890.5,51.90 L908.8,34.40 M890.5,58.20 L908.8,40.70 M890.5,64.50 L908.8,47.00 M890.5,70.80 L908.8,53.30 M890.5,77.10 L908.8,59.60 M890.5,83.40 L908.8,65.90 M890.5,89.70 L908.8,72.20 M890.5,96.00 L908.8,78.50 M890.5,102.30 L908.8,84.80 M890.5,108.60 L908.8,91.10 M890.5,114.90 L908.8,97.40 M890.5,121.20 L908.8,103.70 M890.5,127.50 L908.8,110.00 M890.5,133.80 L908.8,116.30" stroke="#000" stroke-width="1.1" clip-path="url(#c16)"/>
<line x1="908.50" y1="430.00" x2="908.50" y2="510.70" stroke="#000" stroke-width="1.2"/>
<clipPath id="c430"><rect x="890.5" y="430" width="18.3" height="80.69999999999999"/></clipPath>
<path d="M890.5,427.50 L908.8,410.00 M890.5,433.80 L908.8,416.30 M890.5,440.10 L908.8,422.60 M890.5,446.40 L908.8,428.90 M890.5,452.70 L908.8,435.20 M890.5,459.00 L908.8,441.50 M890.5,465.30 L908.8,447.80 M890.5,471.60 L908.8,454.10 M890.5,477.90 L908.8,460.40 M890.5,484.20 L908.8,466.70 M890.5,490.50 L908.8,473.00 M890.5,496.80 L908.8,479.30 M890.5,503.10 L908.8,485.60 M890.5,509.40 L908.8,491.90 M890.5,515.70 L908.8,498.20 M890.5,522.00 L908.8,504.50 M890.5,528.30 L908.8,510.80 M890.5,534.60 L908.8,517.10 M890.5,540.90 L908.8,523.40 M890.5,547.20 L908.8,529.70" stroke="#000" stroke-width="1.1" clip-path="url(#c430)"/>
<line x1="908.50" y1="775.50" x2="908.50" y2="855.30" stroke="#000" stroke-width="1.2"/>
<clipPath id="c775"><rect x="890.5" y="775.5" width="18.3" height="79.79999999999995"/></clipPath>
<path d="M890.5,773.00 L908.8,755.50 M890.5,779.30 L908.8,761.80 M890.5,785.60 L908.8,768.10 M890.5,791.90 L908.8,774.40 M890.5,798.20 L908.8,780.70 M890.5,804.50 L908.8,787.00 M890.5,810.80 L908.8,793.30 M890.5,817.10 L908.8,799.60 M890.5,823.40 L908.8,805.90 M890.5,829.70 L908.8,812.20 M890.5,836.00 L908.8,818.50 M890.5,842.30 L908.8,824.80 M890.5,848.60 L908.8,831.10 M890.5,854.90 L908.8,837.40 M890.5,861.20 L908.8,843.70 M890.5,867.50 L908.8,850.00 M890.5,873.80 L908.8,856.30 M890.5,880.10 L908.8,862.60 M890.5,886.40 L908.8,868.90 M890.5,892.70 L908.8,875.20" stroke="#000" stroke-width="1.1" clip-path="url(#c775)"/>
<line x1="908.80" y1="35.90" x2="908.80" y2="74.70" stroke="#000" stroke-width="2.2"/>
<path d="M908.8,35.9 L982.5,35.9 Q985.5,35.9 985.5,39 L985.5,71.7 Q985.5,74.7 982.5,74.7 L975.7,74.7 Q960,60 943.9,74.7 L908.8,74.7" stroke="#000" stroke-width="2.6" fill="none" />
<path d="M908.8,443 L944.9,443 M908.8,497.7 L944.9,497.7" stroke="#000" stroke-width="2.4" fill="none" />
<line x1="908.80" y1="443.00" x2="908.80" y2="497.70" stroke="#000" stroke-width="2.2"/>
<path d="M945,795.5 Q960,810 974.3,795.5 L982.4,795.5 Q985.4,795.5 985.4,798.5 L985.4,831.9 Q985.4,834.9 982.4,834.9 L908.8,834.9 M908.8,795.5 L945,795.5" stroke="#000" stroke-width="2.6" fill="none" />
<line x1="908.80" y1="795.50" x2="908.80" y2="834.90" stroke="#000" stroke-width="2.2"/>
<line x1="944.80" y1="72.00" x2="944.80" y2="588.40" stroke="#000" stroke-width="2.4"/>
<line x1="944.80" y1="612.50" x2="944.80" y2="797.00" stroke="#000" stroke-width="2.4"/>
<line x1="974.60" y1="72.00" x2="974.60" y2="206.00" stroke="#000" stroke-width="2.4"/>
<line x1="973.80" y1="433.00" x2="973.80" y2="588.40" stroke="#000" stroke-width="2.2"/>
<line x1="974.60" y1="612.50" x2="974.60" y2="797.00" stroke="#000" stroke-width="2.2"/>
<path d="M1026,112.4 C1031,112.2 1035.3,116 1035.3,120.5 L1033.8,151.5 L1029.1,160.8 C1033,164 1034.5,171 1032,178 C1028,190 1012,203 1005.4,208.1 C1002,211 1000.5,215 999.2,219.7 C996,223 992,225.9 986,225.9 C979,225.9 976.3,218 976.2,207 C976,195 982,172 990,155 C998,138 1012,114 1026,112.4 Z" stroke="#000" stroke-width="2.4" fill="#fff" />
<path d="M1019.8,115 L977.5,215.2" stroke="#000" stroke-width="2.7" fill="none" />
<path d="M1032.2,117.4 L991.3,224" stroke="#000" stroke-width="2.8" fill="none" />
<path d="M1026.8,115 L993,200 C985,220 976,240 973.5,250 C968,270 965,290 963.5,305 C961,330 959.5,350 959,364.5 L973.5,371" stroke="#000" stroke-width="0.8" fill="none" />
<path d="M1028.6,115.5 L994.8,200.5 C987,220 978,240 975.5,250.5 C970,270 967,290 965.5,305.5 C963,330 961.5,350 961,363.5 L974,369" stroke="#000" stroke-width="0.8" fill="none" />
<polygon points="1031.5,119 1035.5,123 1035.4,150 1029.5,161 1025.5,161 1028.5,150 1031.5,132" fill="#1a1a1a"/>
<ellipse cx="1033" cy="127" rx="0.8" ry="1.8" transform="rotate(20 1033 127)" fill="#fff"/>
<ellipse cx="1032.5" cy="135" rx="0.8" ry="1.8" transform="rotate(20 1032.5 135)" fill="#fff"/>
<ellipse cx="1031.5" cy="143" rx="0.8" ry="1.8" transform="rotate(20 1031.5 143)" fill="#fff"/>
<ellipse cx="1030.5" cy="150" rx="0.8" ry="1.8" transform="rotate(20 1030.5 150)" fill="#fff"/>
<ellipse cx="1028.5" cy="156" rx="0.8" ry="1.8" transform="rotate(20 1028.5 156)" fill="#fff"/>
<ellipse cx="1033.5" cy="145" rx="0.8" ry="1.8" transform="rotate(20 1033.5 145)" fill="#fff"/>
<ellipse cx="1031" cy="156.5" rx="0.8" ry="1.8" transform="rotate(20 1031 156.5)" fill="#fff"/>
<path d="M1029.5,124 L1019,160 L1011,180 L1003,199" stroke="#000" stroke-width="0.8" fill="none" />
<path d="M1031,126 L1021,161 L1013,181 L1005,200" stroke="#000" stroke-width="0.8" fill="none" />
<path d="M1030,162 C1032,172 1028,184 1020,192 C1014,198 1008,202 1002,206" stroke="#000" stroke-width="0.8" fill="none" />
<path d="M1003,205 L1010,197 L1018,192 L1024,188" stroke="#000" stroke-width="0.9" fill="none" />
<path d="M1013,187 L1020,184 L1022,192 L1015,195 Z" stroke="#000" stroke-width="0.8" fill="none" />
<path d="M972.50,209.00 C970.75,214.88 965.40,231.03 962.00,244.30 C958.60,257.57 954.68,272.15 952.10,288.60 C949.52,305.05 947.87,327.93 946.50,343.00 C945.13,358.07 944.33,373.00 943.90,379.00" stroke="#000" stroke-width="2.6" fill="none" />
<path d="M996.50,221.00 C994.82,226.73 989.18,243.22 986.40,255.40 C983.62,267.58 981.13,281.00 979.80,294.10 C978.47,307.20 978.78,319.85 978.40,334.00 C978.02,348.15 977.65,371.50 977.50,379.00" stroke="#000" stroke-width="2.6" fill="none" />
<path d="M971.00,222.00 C970.63,224.33 969.00,231.92 968.80,236.00 C968.60,240.08 968.27,244.83 969.80,246.50 C971.33,248.17 975.05,246.75 978.00,246.00 C980.95,245.25 985.92,242.67 987.50,242.00" stroke="#000" stroke-width="0.9" fill="none" />
<path d="M944,378.8 Q959.8,366 977,378.8" stroke="#000" stroke-width="0.9" fill="none" />
<path d="M945,377 Q959.8,364 976,377" stroke="#000" stroke-width="0.9" fill="none" />
<line x1="943.50" y1="380.80" x2="977.00" y2="380.80" stroke="#000" stroke-width="2.8"/>
<line x1="945.30" y1="380.80" x2="945.30" y2="393.00" stroke="#000" stroke-width="2.0"/>
<line x1="974.00" y1="380.80" x2="974.00" y2="393.00" stroke="#000" stroke-width="2.0"/>
<path d="M945.3,392.8 L949.8,392.8 L949.8,535.2 L969.2,535.2 L969.2,392.8 L974,392.8" stroke="#000" stroke-width="3.0" fill="none" />
<line x1="949.50" y1="416.10" x2="969.50" y2="416.10" stroke="#000" stroke-width="3.6"/>
<path d="M942.5,394.2 C933.5,401 933.5,424 944.8,434" stroke="#000" stroke-width="3.6" fill="none" />
<path d="M977.3,394.2 C986.5,401 986.5,424 974.2,434" stroke="#000" stroke-width="3.6" fill="none" />
<line x1="940.50" y1="393.00" x2="943.50" y2="396.50" stroke="#000" stroke-width="2.0"/>
<line x1="979.30" y1="393.00" x2="976.30" y2="396.50" stroke="#000" stroke-width="2.0"/>
<path d="M950.4,686.8 L950.4,573.5 Q950.4,570.8 953,570.8 L966.3,570.8 Q968.9,570.8 968.9,573.5 L968.9,686.8" stroke="#000" stroke-width="2.5" fill="none" />
<path d="M949.5,686.8 L970,686.8 Q971.9,686.8 971.9,689 L972.6,724.8 L946.3,724.8 L947.8,689 Q947.8,686.8 949.5,686.8 Z" stroke="#000" stroke-width="2.4" fill="none" />
<rect x="941.6" y="588.4" width="8.6" height="24.1" stroke="#000" stroke-width="2.2" fill="#fff"/>
<line x1="944.50" y1="588.40" x2="944.50" y2="612.50" stroke="#000" stroke-width="1.0"/>
<rect x="971" y="588.4" width="6" height="24.1" stroke="#000" stroke-width="2.2" fill="#fff"/>
<rect x="976" y="584.6" width="118.4" height="3.6" rx="1.6" stroke="#777" stroke-width="1.1" fill="none"/>
<path d="M976,584.6 L1092.8,584.6 Q1094.4,584.6 1094.4,586.4 Q1094.4,588.2 1093,588.2" stroke="#000" stroke-width="1.7" fill="none" />
<path d="M984,588.5 C986,600 990,608.5 1002,608.5 L1066,608.5 C1080,608.5 1086,600 1087.4,588.5" stroke="#000" stroke-width="2.0" fill="none" />
<path d="M976,612.5 L990.5,612.5 L998.5,608" stroke="#000" stroke-width="2.0" fill="none" />
<line x1="978.50" y1="589.00" x2="978.50" y2="612.50" stroke="#000" stroke-width="2.0"/>
<line x1="1094.50" y1="594.90" x2="1094.50" y2="648.50" stroke="#333" stroke-width="1.0"/>
<line x1="942.50" y1="618.90" x2="942.50" y2="648.50" stroke="#333" stroke-width="1.0"/>
<line x1="960.00" y1="641.50" x2="988.90" y2="641.50" stroke="#333" stroke-width="1.0"/>
<polygon points="942.70,641.60 959.70,638.70 959.70,644.50" fill="#000"/>
<line x1="1049.00" y1="641.50" x2="1078.00" y2="641.50" stroke="#333" stroke-width="1.0"/>
<polygon points="1094.60,641.60 1077.60,638.70 1077.60,644.50" fill="#000"/>
<path transform="translate(998.50,626.70)" d="M1.6,4.7 L6.3,1 L6.3,16.1" stroke="#000" stroke-width="2.0" fill="none" stroke-linecap="round" stroke-linejoin="round"/>
<path transform="translate(1012.70,626.70)" d="M1.3,5.2 C1.3,2.6 3.4,1 6.1,1 C8.9,1 10.9,2.8 10.9,5.3 C10.9,7.6 9.4,9 6.5,10.9 C3.6,12.8 1.5,14.4 1.1,16.1 L11.2,16.1" stroke="#000" stroke-width="2.0" fill="none" stroke-linecap="round" stroke-linejoin="round"/>
<path transform="translate(1026.90,626.70)" d="M1.70,12.70 C2.10,14.80 3.80,16.10 6.00,16.10 C9.40,16.10 11.30,12.80 11.30,7.80 C11.30,3.60 9.30,1.00 6.10,1.00 C3.20,1.00 1.10,2.90 1.10,5.90 C1.10,8.80 3.10,10.70 5.90,10.70 C8.60,10.70 10.70,9.10 11.20,6.50" stroke="#000" stroke-width="2.0" fill="none" stroke-linecap="round" stroke-linejoin="round"/>
<line x1="908.50" y1="862.00" x2="908.50" y2="882.70" stroke="#333" stroke-width="1.0"/>
<line x1="985.50" y1="862.00" x2="985.50" y2="882.70" stroke="#333" stroke-width="1.0"/>
<line x1="873.30" y1="875.50" x2="892.00" y2="875.50" stroke="#333" stroke-width="1.0"/>
<polygon points="908.60,875.30 891.60,872.40 891.60,878.20" fill="#000"/>
<line x1="1002.00" y1="875.50" x2="1020.00" y2="875.50" stroke="#333" stroke-width="1.0"/>
<polygon points="985.40,875.30 1002.40,872.40 1002.40,878.20" fill="#000"/>
<path transform="translate(933.10,860.30)" d="M10.6,4.4 C10.2,2.3 8.5,1 6.3,1 C2.9,1 1,4.3 1,9.3 C1,13.5 3,16.1 6.2,16.1 C9.1,16.1 11.2,14.2 11.2,11.2 C11.2,8.3 9.2,6.4 6.4,6.4 C3.7,6.4 1.6,8 1.1,10.6" stroke="#000" stroke-width="2.0" fill="none" stroke-linecap="round" stroke-linejoin="round"/>
<path transform="translate(947.30,860.30)" d="M10.6,1.1 L2.6,1.1 L1.6,8 C2.8,6.9 4.3,6.3 6.1,6.3 C9.2,6.3 11.2,8.4 11.2,11.2 C11.2,14.1 9.1,16.1 6.1,16.1 C3.4,16.1 1.5,14.8 1,12.4" stroke="#000" stroke-width="2.0" fill="none" stroke-linecap="round" stroke-linejoin="round"/>
<line x1="759.00" y1="35.50" x2="901.60" y2="35.50" stroke="#333" stroke-width="1.0"/>
<line x1="759.00" y1="834.50" x2="901.60" y2="834.50" stroke="#333" stroke-width="1.0"/>
<line x1="829.00" y1="55.50" x2="901.60" y2="55.50" stroke="#333" stroke-width="1.0"/>
<line x1="829.50" y1="814.50" x2="901.60" y2="814.50" stroke="#333" stroke-width="1.0"/>
<line x1="766.50" y1="52.00" x2="766.50" y2="415.80" stroke="#333" stroke-width="1.0"/>
<line x1="766.50" y1="454.40" x2="766.50" y2="818.00" stroke="#333" stroke-width="1.0"/>
<polygon points="766.50,36.00 763.60,53.00 769.40,53.00" fill="#000"/>
<polygon points="766.50,834.50 763.60,817.50 769.40,817.50" fill="#000"/>
<line x1="836.50" y1="72.00" x2="836.50" y2="415.80" stroke="#333" stroke-width="1.0"/>
<line x1="836.50" y1="454.40" x2="836.50" y2="798.00" stroke="#333" stroke-width="1.0"/>
<polygon points="836.40,55.40 833.50,72.40 839.30,72.40" fill="#000"/>
<polygon points="836.40,814.80 833.50,797.80 839.30,797.80" fill="#000"/>
<path transform="translate(745.00,426.30)" d="M10.6,4.4 C10.2,2.3 8.5,1 6.3,1 C2.9,1 1,4.3 1,9.3 C1,13.5 3,16.1 6.2,16.1 C9.1,16.1 11.2,14.2 11.2,11.2 C11.2,8.3 9.2,6.4 6.4,6.4 C3.7,6.4 1.6,8 1.1,10.6" stroke="#000" stroke-width="2.0" fill="none" stroke-linecap="round" stroke-linejoin="round"/>
<path transform="translate(759.20,426.30)" d="M1.3,1.1 L11.8,1.1 C9.5,4.5 6.5,10 4.9,16.1" stroke="#000" stroke-width="2.0" fill="none" stroke-linecap="round" stroke-linejoin="round"/>
<path transform="translate(773.40,426.30)" d="M10.6,1.1 L2.6,1.1 L1.6,8 C2.8,6.9 4.3,6.3 6.1,6.3 C9.2,6.3 11.2,8.4 11.2,11.2 C11.2,14.1 9.1,16.1 6.1,16.1 C3.4,16.1 1.5,14.8 1,12.4" stroke="#000" stroke-width="2.0" fill="none" stroke-linecap="round" stroke-linejoin="round"/>
<path transform="translate(815.70,426.30)" d="M10.6,4.4 C10.2,2.3 8.5,1 6.3,1 C2.9,1 1,4.3 1,9.3 C1,13.5 3,16.1 6.2,16.1 C9.1,16.1 11.2,14.2 11.2,11.2 C11.2,8.3 9.2,6.4 6.4,6.4 C3.7,6.4 1.6,8 1.1,10.6" stroke="#000" stroke-width="2.0" fill="none" stroke-linecap="round" stroke-linejoin="round"/>
<path transform="translate(829.50,426.30)" d="M8.9,16.1 L8.9,1 L0.9,12 L11.4,12" stroke="#000" stroke-width="2.0" fill="none" stroke-linecap="round" stroke-linejoin="round"/>
<path transform="translate(843.30,426.30)" d="M1.3,5.2 C1.3,2.6 3.4,1 6.1,1 C8.9,1 10.9,2.8 10.9,5.3 C10.9,7.6 9.4,9 6.5,10.9 C3.6,12.8 1.5,14.4 1.1,16.1 L11.2,16.1" stroke="#000" stroke-width="2.0" fill="none" stroke-linecap="round" stroke-linejoin="round"/>
</svg></body></html>
